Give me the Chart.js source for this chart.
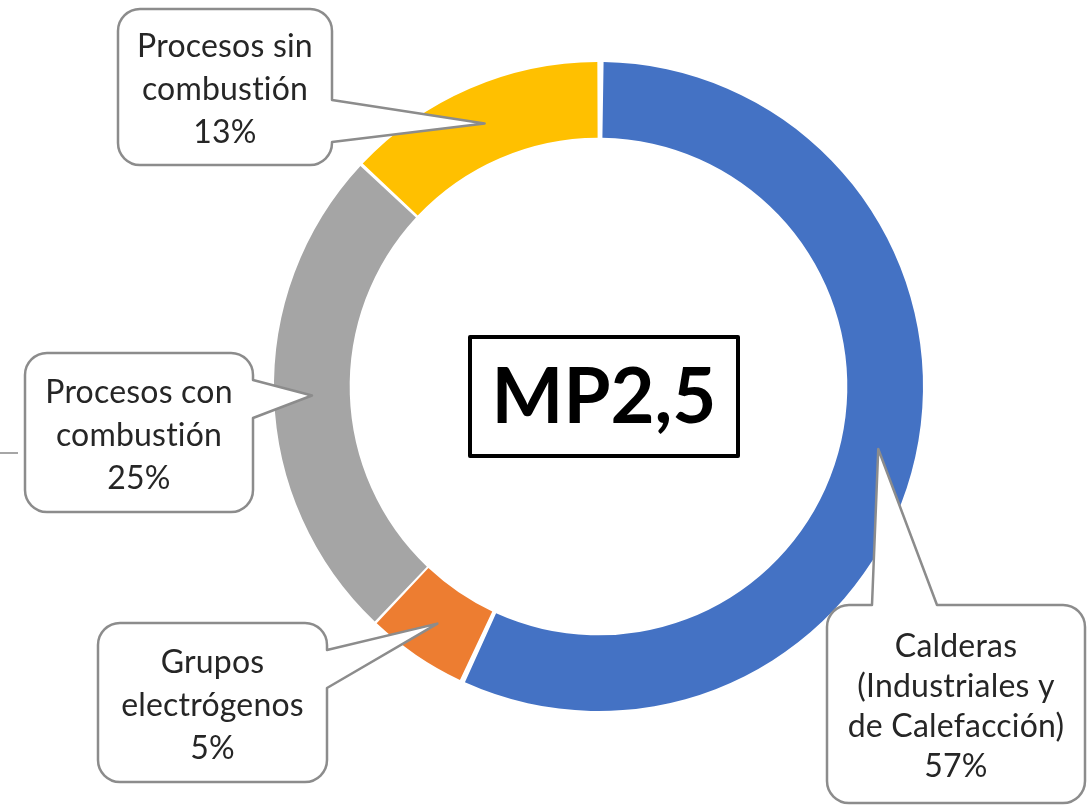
<!DOCTYPE html>
<html>
<head>
<meta charset="utf-8">
<script src="https://cdn.jsdelivr.net/npm/chart.js"></script>
<style>
  html, body { margin: 0; padding: 0; background: #fff; }
  #wrap { position: relative; width: 1087px; height: 808px; }
</style>
</head>
<body>
<div id="wrap"><canvas id="chart" width="1087" height="808"></canvas></div>
<script>
// data, clockwise from 12 o'clock
const categories = ["Calderas (Industriales y de Calefacción)", "Grupos electrógenos", "Procesos con combustión", "Procesos sin combustión"];
const labelLines = [
    ["Calderas", "(Industriales y", "de Calefacción)"],
    ["Grupos", "electrógenos"],
    ["Procesos con", "combustión"],
    ["Procesos sin", "combustión"]
];
const shares = [57, 5, 25, 13];
const colors = ["#4472C4", "#ED7D31", "#A5A5A5", "#FFC000"];
const centerTitle = "MP2,5";

// callout boxes (layout only)
const callouts = [
    {x: 827, y: 605, w: 258, h: 198, side: "top", base: [872, 937]},
    {x: 98, y: 623, w: 229, h: 159, side: "right", base: [650, 688]},
    {x: 25, y: 353, w: 228, h: 159, side: "right", base: [380, 418]},
    {x: 118, y: 9, w: 214, h: 156, side: "right", base: [100, 142]}
];

const calloutPath = (function(ctx, c, tip) {
    let r = 22, x = c.x, y = c.y, w = c.w, h = c.h;
    ctx.beginPath();
    ctx.moveTo(x + r, y);
    if (c.side === "top") {
        ctx.lineTo(c.base[0], y);
        ctx.lineTo(tip.x, tip.y);
        ctx.lineTo(c.base[1], y);
    }
    ctx.lineTo(x + w - r, y);
    ctx.arcTo(x + w, y, x + w, y + r, r);
    if (c.side === "right") {
        ctx.lineTo(x + w, c.base[0]);
        ctx.lineTo(tip.x, tip.y);
        ctx.lineTo(x + w, c.base[1]);
    }
    ctx.lineTo(x + w, y + h - r);
    ctx.arcTo(x + w, y + h, x + w - r, y + h, r);
    ctx.lineTo(x + r, y + h);
    ctx.arcTo(x, y + h, x, y + h - r, r);
    ctx.lineTo(x, y + r);
    ctx.arcTo(x, y, x + r, y, r);
    ctx.closePath();
});

const calloutPlugin = {
    id: "callouts",
    afterDraw(chart) {
        let ctx = chart.ctx;
        let arcs = chart.getDatasetMeta(0).data;
        ctx.save();

        // stray rule on the far left of the original
        ctx.strokeStyle = "#a6a6a6";
        ctx.lineWidth = 2;
        ctx.beginPath();
        ctx.moveTo(0, 453);
        ctx.lineTo(18, 453);
        ctx.stroke();

        callouts.forEach((c, i) => {
            let tip = arcs[i].tooltipPosition();
            calloutPath(ctx, c, tip);
            ctx.fillStyle = "#ffffff";
            ctx.fill();
            ctx.strokeStyle = "#8c8c8c";
            ctx.lineWidth = 2.5;
            ctx.lineJoin = "round";
            ctx.stroke();

            let lines = labelLines[i].concat([shares[i] + "%"]);
            let lh = lines.length > 3 ? 40 : 43;
            let cx = c.x + c.w / 2;
            let cy = c.y + c.h / 2 + 3;
            ctx.fillStyle = "#262626";
            ctx.font = "32px Lato";
            ctx.letterSpacing = "0.2px"; // keeps Lato from joining "ti"
            ctx.textAlign = "center";
            ctx.textBaseline = "middle";
            lines.forEach((t, k) => {
                ctx.fillText(t, cx, cy + (k - (lines.length - 1) / 2) * lh);
            });
        });

        // centre title box
        ctx.strokeStyle = "#000000";
        ctx.lineWidth = 4;
        ctx.strokeRect(470, 337, 268, 119);
        ctx.fillStyle = "#000000";
        ctx.font = "bold 76px Lato";
        ctx.letterSpacing = "0px";
        ctx.textAlign = "center";
        ctx.textBaseline = "middle";
        ctx.fillText(centerTitle, 604, 398);
        ctx.restore();
    }
};

let ctx = document.getElementById("chart").getContext("2d");
let chart = new Chart(ctx, {
    type: "doughnut",
    data: {
        labels: categories,
        datasets: [{
            data: shares,
            backgroundColor: colors,
            borderWidth: 0,
            spacing: 5,
            hoverOffset: 0
        }]
    },
    options: {
        responsive: false,
        animation: false,
        cutout: "76.5%",
        layout: {
            padding: {left: 274, top: 62, right: 164, bottom: 97}
        },
        plugins: {
            legend: {display: false},
            tooltip: {enabled: false}
        }
    },
    plugins: [calloutPlugin]
});
</script>
</body>
</html>
